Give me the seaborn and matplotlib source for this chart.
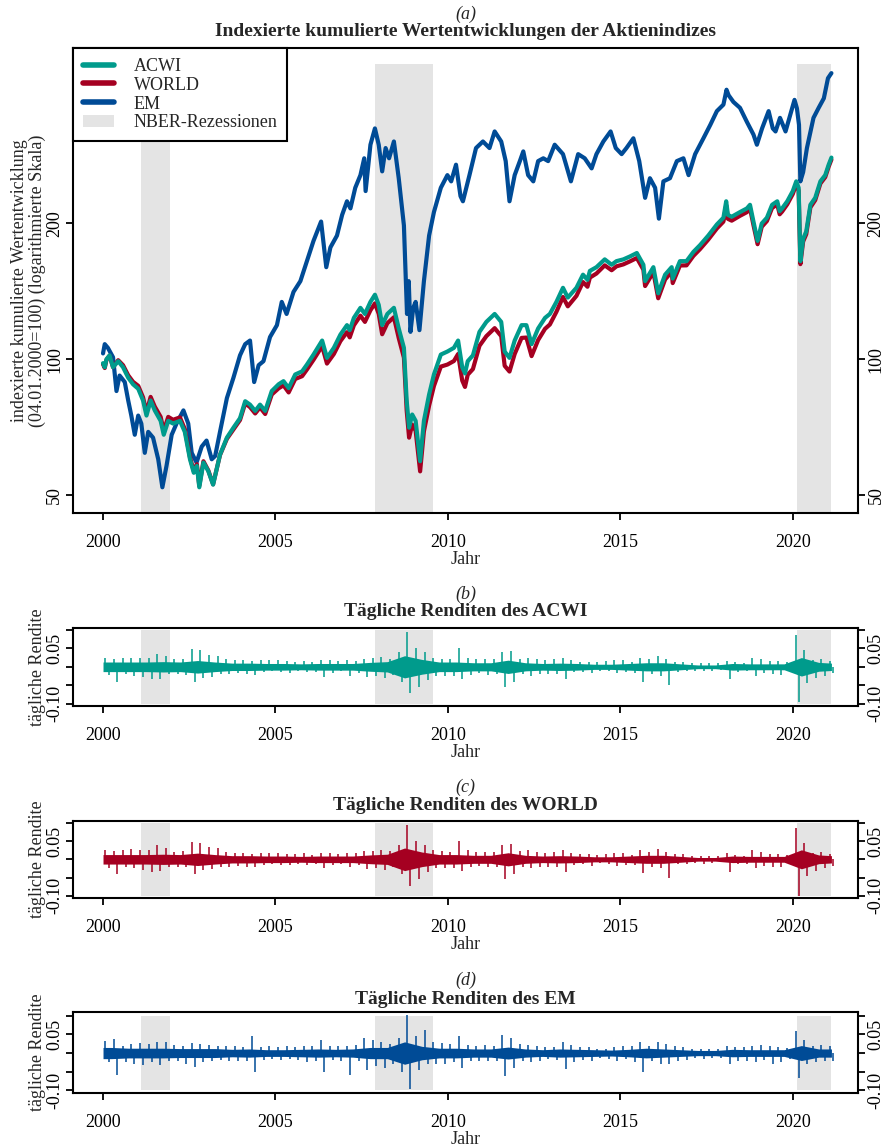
import numpy as np
import pandas as pd
import matplotlib
matplotlib.use("Agg")
import matplotlib.pyplot as plt
import seaborn as sns
from matplotlib.lines import Line2D
from matplotlib.patches import Patch
from matplotlib.ticker import FixedLocator, NullLocator

# ---------------- Daten ----------------
# Indexwerte (04.01.2000 = 100), Stützstellen in Dezimaljahren
jahr_acwi = [2000.01, 2000.06, 2000.11, 2000.20, 2000.30, 2000.45, 2000.59, 2000.74, 2000.88,
             2001.03, 2001.17, 2001.27, 2001.39, 2001.51, 2001.68, 2001.77, 2001.90,
             2002.04, 2002.24, 2002.38, 2002.53, 2002.64, 2002.73, 2002.80, 2002.92,
             2003.06, 2003.20, 2003.40, 2003.60, 2003.79, 2003.98,
             2004.13, 2004.27, 2004.42, 2004.56, 2004.71, 2004.90,
             2005.10, 2005.24, 2005.39, 2005.58, 2005.78, 2005.92,
             2006.11, 2006.36, 2006.50, 2006.70, 2006.89,
             2007.08, 2007.16, 2007.28, 2007.47, 2007.60, 2007.76, 2007.89,
             2008.00, 2008.10, 2008.25, 2008.44, 2008.58, 2008.73, 2008.81, 2008.88, 2008.97,
             2009.07, 2009.20, 2009.31, 2009.46, 2009.60, 2009.80, 2009.99,
             2010.18, 2010.30, 2010.42, 2010.50, 2010.58, 2010.73, 2010.92,
             2011.12, 2011.36, 2011.55, 2011.65, 2011.79, 2011.94,
             2012.14, 2012.28, 2012.43, 2012.62, 2012.82, 2012.96,
             2013.15, 2013.34, 2013.48, 2013.73, 2013.92,
             2014.05, 2014.12, 2014.31, 2014.55, 2014.75, 2014.89,
             2015.09, 2015.28, 2015.48, 2015.67, 2015.72, 2015.96,
             2016.10, 2016.30, 2016.49, 2016.52, 2016.73, 2016.92,
             2017.12, 2017.31, 2017.55, 2017.80, 2017.99,
             2018.07, 2018.12, 2018.23, 2018.47, 2018.67, 2018.76, 2018.86, 2018.98,
             2019.10, 2019.25, 2019.40, 2019.55, 2019.62, 2019.69, 2019.84,
             2020.00, 2020.10, 2020.17, 2020.22, 2020.30, 2020.39, 2020.51, 2020.65, 2020.80,
             2020.94, 2021.04, 2021.12]

acwi_wert = [98, 96, 100, 102, 96, 99, 96, 91, 88,
             86, 81, 75, 81, 77, 73, 68, 73,
             72, 73, 69, 60, 56, 58, 52, 59,
             56.5, 52.7, 61.4, 67, 70.5, 74,
             80.7, 79.3, 76.8, 79.3, 76.8, 85,
             88, 89.4, 86.3, 92.5, 94, 97.3,
             102.4, 110, 100.7, 106, 113.4,
             119, 116, 123.5, 130, 126, 134, 139,
             132, 119, 126, 130, 117, 106, 81, 70.5, 75.4,
             73, 59.4, 73, 83.5, 92.5, 102.4, 104,
             106, 110, 96, 93, 99, 102, 115,
             121, 126, 121, 104, 100.7, 110,
             119, 119, 108, 117, 123.5, 126,
             134, 144, 137, 144, 154,
             150, 157, 160, 166.5, 162, 165,
             166.5, 169, 172, 162, 149, 160,
             140, 154, 160, 151, 165, 165,
             173, 179, 188, 199, 206,
             224, 209, 207, 212, 216, 220, 202, 183,
             200, 206, 220, 224, 213, 216, 224,
             236, 248, 240, 165, 185, 192, 220, 228, 248,
             256, 270, 280]

world_wert = [97.5, 95.6, 99.7, 101.8, 96, 99.5, 97, 92.1, 89.1,
              87.3, 82.3, 76.3, 82.5, 78.5, 74.5, 69.4, 74.5,
              73.4, 74.3, 70, 60.6, 56.5, 58.5, 52.4, 59.4,
              56.7, 52.8, 61.3, 66.6, 69.9, 73.3,
              79.8, 78.3, 75.8, 78.2, 75.6, 83.5,
              86.2, 87.5, 84.4, 90.4, 91.7, 94.9,
              99.7, 106.9, 97.8, 102.7, 109.7,
              114.8, 111.8, 118.9, 124.9, 121, 128.4, 133,
              126.1, 113.6, 120.2, 123.9, 111.4, 100.8, 77, 67, 71.6,
              69.4, 56.4, 69.2, 78.9, 87.2, 96.3, 97.3,
              99.1, 102.7, 89.7, 86.8, 92.4, 95.1, 107.1,
              112.5, 117.2, 112.5, 96.7, 93.9, 102.7,
              111.5, 111.7, 101.6, 110.3, 116.8, 119.4,
              127.4, 137.4, 131, 138.2, 148.3,
              144.8, 151.7, 154.9, 161.5, 157.5, 160.7,
              162.3, 164.8, 167.7, 158, 145.3, 156,
              136.5, 150.3, 156.3, 147.5, 161.4, 161.5,
              169.5, 175.4, 184.2, 195, 201.9,
              219.5, 204.8, 202.9, 208, 211.9, 216, 198.4, 179.9,
              196.6, 202.5, 216.5, 220.4, 209.6, 212.5, 220.6,
              232.5, 244.3, 236.4, 162.5, 182.4, 189.3, 217.1, 225.3, 245.3,
              253.4, 267.3, 277.2]

jahr_em = [2000.01, 2000.06, 2000.15, 2000.30, 2000.40, 2000.49, 2000.64, 2000.74, 2000.83, 2000.93,
           2001.03, 2001.12, 2001.22, 2001.32, 2001.46, 2001.61, 2001.73, 2001.85,
           2002.00, 2002.14, 2002.34, 2002.48, 2002.58, 2002.72, 2002.87,
           2003.01, 2003.16, 2003.26, 2003.40, 2003.60, 2003.79, 2003.98,
           2004.13, 2004.27, 2004.39, 2004.52, 2004.66, 2004.85,
           2005.05, 2005.19, 2005.33, 2005.53, 2005.73, 2005.92,
           2006.11, 2006.33, 2006.48, 2006.60, 2006.79, 2006.94,
           2007.08, 2007.18, 2007.32, 2007.47, 2007.58, 2007.62, 2007.76, 2007.89,
           2008.00, 2008.10, 2008.20, 2008.30, 2008.44, 2008.58, 2008.73, 2008.82, 2008.87, 2008.92,
           2009.00, 2009.07, 2009.18, 2009.31, 2009.46, 2009.60, 2009.80, 2009.99,
           2010.10, 2010.24, 2010.37, 2010.44, 2010.63, 2010.82,
           2011.02, 2011.21, 2011.36, 2011.55, 2011.68, 2011.79, 2011.94,
           2012.09, 2012.19, 2012.33, 2012.48, 2012.62, 2012.77, 2012.91,
           2013.10, 2013.34, 2013.57, 2013.78, 2013.97,
           2014.17, 2014.31, 2014.51, 2014.72, 2014.87,
           2015.04, 2015.18, 2015.38, 2015.55, 2015.72, 2015.86,
           2016.01, 2016.12, 2016.25, 2016.44, 2016.64, 2016.83, 2016.98,
           2017.17, 2017.41, 2017.61, 2017.80, 2017.99,
           2018.08, 2018.14, 2018.28, 2018.47, 2018.67, 2018.86, 2018.96,
           2019.11, 2019.30, 2019.42, 2019.50, 2019.63, 2019.79, 2019.93,
           2020.05, 2020.12, 2020.18, 2020.22, 2020.30, 2020.41, 2020.60, 2020.75, 2020.90,
           2021.02, 2021.12]

em_wert = [103, 108, 106, 101, 85, 92, 89, 81, 75, 68,
           75, 72, 62, 69, 67, 60, 52, 58,
           68, 72, 77, 72, 62, 59, 64,
           66, 60, 61, 69, 82, 91, 102,
           108, 110, 89, 97, 99, 112,
           119, 134, 126, 141, 149, 165,
           183, 202, 160, 177, 188, 209,
           224, 216, 240, 256, 279, 236, 299, 325,
           299, 261, 294, 279, 304, 252, 198, 126, 149, 115,
           130, 134, 116, 149, 188, 212, 240, 256,
           248, 270, 230, 224, 256, 294,
           304, 294, 320, 304, 275, 224, 256,
           275, 289, 256, 248, 275, 279, 275,
           299, 285, 248, 285, 279,
           265, 285, 304, 320, 294,
           285, 294, 309, 275, 228, 252,
           240, 205, 248, 252, 275, 279, 256,
           285, 309, 331, 355, 367,
           396, 385, 372, 361, 336, 315, 299,
           325, 355, 325, 320, 343, 320, 349,
           376, 360, 331, 248, 260, 294, 343, 361, 379,
           420, 431]

# NBER-Rezessionen (Beginn, Ende) in Dezimaljahren
rezessionen = [(2001.12, 2001.95), (2007.90, 2009.57), (2020.12, 2021.12)]

# Tägliche Renditen: Quartalsextrema (2000Q1 ... 2021Q1)
acwi_max = [.024, .022, .025, .025, .025, .025, .036, .030, .020, .022, .047, .045,
            .032, .030, .020, .018, .018, .015, .018, .018, .018, .015, .014, .016,
            .013, .018, .018, .015, .018, .016, .022, .024, .026, .022, .040, .093,
            .050, .040, .025, .022, .020, .050, .025, .020, .020, .020, .040, .042,
            .022, .025, .020, .018, .020, .025, .018, .014, .014, .012, .015, .018,
            .018, .012, .025, .020, .028, .020, .014, .014, .010, .010, .010, .010,
            .016, .012, .010, .025, .020, .015, .015, .012, .086, .045, .018, .020,
            .015]
acwi_min = [-.022, -.040, -.020, -.025, -.028, -.034, -.032, -.020, -.020, -.022, -.040, -.030,
            -.027, -.020, -.020, -.018, -.020, -.022, -.015, -.012, -.015, -.016, -.012, -.015,
            -.014, -.027, -.016, -.012, -.024, -.016, -.027, -.025, -.030, -.022, -.040, -.072,
            -.054, -.035, -.025, -.025, -.025, -.032, -.022, -.018, -.022, -.020, -.054, -.040,
            -.020, -.025, -.020, -.020, -.020, -.034, -.015, -.014, -.018, -.010, -.012, -.018,
            -.015, -.016, -.040, -.020, -.025, -.048, -.014, -.012, -.010, -.012, -.010, -.008,
            -.033, -.014, -.012, -.025, -.018, -.020, -.022, -.012, -.096, -.045, -.030, -.025,
            -.018]
world_max = [.026, .024, .025, .027, .026, .025, .038, .030, .020, .022, .048, .045,
             .033, .030, .020, .018, .018, .015, .017, .018, .018, .015, .014, .016,
             .013, .017, .017, .015, .018, .016, .022, .024, .026, .022, .040, .095,
             .050, .038, .025, .022, .020, .050, .025, .020, .020, .020, .040, .042,
             .022, .025, .020, .018, .020, .025, .018, .014, .014, .012, .015, .018,
             .018, .012, .025, .020, .028, .020, .014, .014, .010, .010, .010, .010,
             .016, .012, .010, .025, .020, .015, .015, .012, .086, .046, .018, .020,
             .015]
world_min = [-.024, -.040, -.020, -.025, -.028, -.034, -.033, -.020, -.020, -.022, -.040, -.030,
             -.027, -.020, -.020, -.018, -.020, -.020, -.015, -.012, -.015, -.015, -.012, -.015,
             -.014, -.025, -.016, -.012, -.022, -.016, -.027, -.025, -.030, -.022, -.040, -.074,
             -.054, -.035, -.025, -.025, -.025, -.032, -.022, -.018, -.022, -.020, -.055, -.040,
             -.020, -.025, -.020, -.020, -.020, -.034, -.015, -.014, -.018, -.010, -.012, -.018,
             -.015, -.016, -.038, -.020, -.025, -.050, -.014, -.012, -.010, -.012, -.010, -.008,
             -.034, -.014, -.012, -.025, -.018, -.020, -.022, -.012, -.100, -.045, -.032, -.025,
             -.018]
em_max = [.031, .037, .020, .025, .028, .025, .030, .030, .022, .020, .028, .025,
          .022, .020, .020, .018, .015, .046, .016, .018, .016, .018, .016, .020,
          .020, .035, .018, .020, .020, .022, .040, .035, .030, .025, .040, .101,
          .045, .062, .030, .028, .025, .045, .022, .020, .022, .020, .048, .040,
          .025, .022, .020, .015, .016, .030, .022, .015, .015, .012, .012, .015,
          .018, .020, .030, .020, .030, .025, .018, .016, .012, .012, .012, .012,
          .020, .015, .016, .020, .022, .018, .016, .014, .059, .035, .020, .022,
          .020]
em_min = [-.023, -.058, -.025, -.028, -.032, -.025, -.032, -.022, -.020, -.030, -.037, -.025,
          -.022, -.018, -.020, -.020, -.020, -.050, -.018, -.015, -.018, -.015, -.018, -.025,
          -.020, -.050, -.018, -.020, -.058, -.020, -.045, -.035, -.040, -.030, -.050, -.095,
          -.045, -.030, -.030, -.030, -.025, -.041, -.020, -.020, -.020, -.020, -.062, -.040,
          -.022, -.025, -.020, -.015, -.018, -.042, -.025, -.018, -.020, -.012, -.015, -.020,
          -.015, -.025, -.050, -.020, -.030, -.030, -.020, -.018, -.012, -.015, -.012, -.012,
          -.030, -.020, -.020, -.025, -.018, -.028, -.025, -.016, -.067, -.030, -.025, -.020,
          -.020]

# typische Schwankungsbreite (halbe Bandbreite) je Halbjahr, 2000H1 ... 2021H1
acwi_band = [.013, .013, .013, .014, .013, .017, .013, .010, .010, .009, .009, .008,
             .009, .009, .009, .012, .014, .030, .020, .013, .013, .011, .011, .018,
             .011, .009, .010, .009, .007, .007, .009, .011, .011, .008, .005, .005,
             .009, .008, .008, .008, .025, .012, .010]
world_band = [.013, .013, .013, .014, .013, .017, .013, .010, .010, .009, .009, .008,
              .009, .009, .009, .012, .014, .031, .020, .013, .013, .011, .011, .018,
              .011, .009, .010, .009, .007, .007, .009, .011, .011, .008, .005, .005,
              .009, .008, .008, .008, .026, .012, .010]
em_band = [.015, .013, .013, .013, .012, .012, .012, .010, .011, .009, .009, .010,
           .011, .010, .011, .015, .015, .030, .018, .013, .013, .011, .011, .016,
           .011, .009, .011, .010, .009, .008, .010, .013, .011, .009, .007, .007,
           .010, .009, .009, .009, .020, .011, .011]

beginn_daten, ende_daten = 2000.01, 2021.12

# ---------------- Darstellung ----------------
sns.set_theme(style="white")
plt.rcParams["font.family"] = ["Liberation Serif", "DejaVu Serif"]
plt.rcParams["axes.linewidth"] = 1.5

farbe = {"ACWI": "#009B8C", "WORLD": "#A50021", "EM": "#004B96"}
grau = "#E4E4E4"

W, H = 889, 1148
fig = plt.figure(figsize=(W / 100, H / 100), dpi=100)


def box(links, oben, rechts, unten):
    return [links / W, 1 - unten / H, (rechts - links) / W, (unten - oben) / H]


ax_a = fig.add_axes(box(73, 48, 858, 513))
ax_b = fig.add_axes(box(73, 628, 858, 706))
ax_c = fig.add_axes(box(73, 821, 858, 898))
ax_d = fig.add_axes(box(73, 1012, 858, 1093))

xlim = (1999.14, 2021.89)


def achsen_stil(ax):
    ax.set_xlim(*xlim)
    ax.xaxis.set_major_locator(FixedLocator([2000, 2005, 2010, 2015, 2020]))
    ax.xaxis.set_minor_locator(NullLocator())
    ax.tick_params(axis="both", which="major", direction="out", length=5, width=1.3,
                   labelsize=13, color="black", labelcolor="black")
    ax.tick_params(axis="x", pad=10, bottom=True)
    ax.tick_params(axis="y", left=True, right=True, labelleft=True, labelright=True,
                   labelrotation=90, pad=2)
    for lab in ax.get_yticklabels():
        lab.set_va("center")
    for s in ax.spines.values():
        s.set_color("black")
        s.set_linewidth(1.5)
    ax.set_xlabel("Jahr", fontsize=13, labelpad=0)
    ax.grid(False)
    ax.set_facecolor("white")


# ----- (a) kumulierte Wertentwicklung -----
df_idx = pd.concat([
    pd.DataFrame({"Jahr": jahr_em, "Wert": em_wert, "Index": "EM"}),
    pd.DataFrame({"Jahr": jahr_acwi, "Wert": world_wert, "Index": "WORLD"}),
    pd.DataFrame({"Jahr": jahr_acwi, "Wert": acwi_wert, "Index": "ACWI"}),
])

ylim_a = (45.6, 490)
for a, b in rezessionen:
    ax_a.axvspan(a, b, ymin=0, ymax=0.966, color=grau, lw=0, zorder=0)
for name in ["EM", "WORLD", "ACWI"]:
    sns.lineplot(data=df_idx[df_idx["Index"] == name], x="Jahr", y="Wert", ax=ax_a,
                 color=farbe[name], lw=3.0, estimator=None, sort=False, legend=False, zorder=2)
ax_a.set_yscale("log")
ax_a.set_ylim(*ylim_a)
ax_a.yaxis.set_major_locator(FixedLocator([50, 100, 200]))
ax_a.yaxis.set_minor_locator(NullLocator())
ax_a.set_yticklabels(["50", "100", "200"])
achsen_stil(ax_a)
ax_a.set_ylabel("indexierte kumulierte Wertentwicklung\n(04.01.2000=100) (logarithmierte Skala)",
                fontsize=13, labelpad=0, linespacing=1.1)

handles = [Line2D([], [], color=farbe["ACWI"], lw=4),
           Line2D([], [], color=farbe["WORLD"], lw=4),
           Line2D([], [], color=farbe["EM"], lw=4),
           Patch(facecolor=grau, edgecolor="none")]
leg = ax_a.legend(handles, ["ACWI", "WORLD", "EM", "NBER-Rezessionen"], loc="upper left",
                  bbox_to_anchor=(0, 1), borderaxespad=0, fontsize=13, frameon=True,
                  fancybox=False, framealpha=1, edgecolor="black", handlelength=1.7,
                  handletextpad=1.1, labelspacing=0.1, borderpad=0.55)
leg.get_frame().set_linewidth(1.5)

# ----- (b)-(d) tägliche Renditen -----
# Quartalsmaximum und -minimum als Ausschläge, dazu das typische Band je Halbjahr
x_hoch, x_tief, halb_x = [], [], [beginn_daten]
for q in range(len(acwi_max)):
    t0 = 2000 + q * 0.25
    x_hoch.append(t0 + 0.08)
    x_tief.append(t0 + 0.17)
for h in range(len(acwi_band)):
    halb_x.append(min(2000 + h * 0.5 + 0.25, ende_daten))
halb_x.append(ende_daten)

panels = [(ax_b, "ACWI", acwi_max, acwi_min, acwi_band, (-0.106, 0.105)),
          (ax_c, "WORLD", world_max, world_min, world_band, (-0.106, 0.105)),
          (ax_d, "EM", em_max, em_min, em_band, (-0.107, 0.110))]

for ax, name, hi, lo, band, ylim in panels:
    span_lo = (-0.10 - ylim[0]) / (ylim[1] - ylim[0])
    span_hi = (0.10 - ylim[0]) / (ylim[1] - ylim[0])
    for a, b in rezessionen:
        ax.axvspan(a, b, ymin=span_lo, ymax=span_hi, color=grau, lw=0, zorder=0)
    bw = np.array([band[0]] + band + [band[-1]])
    ax.fill_between(halb_x, -bw, bw, color=farbe[name], lw=0, zorder=2)
    ax.vlines(x_hoch, 0, hi, color=farbe[name], lw=1.1, zorder=3)
    ax.vlines(x_tief, lo, 0, color=farbe[name], lw=1.1, zorder=3)
    ax.set_ylim(*ylim)
    ax.yaxis.set_major_locator(FixedLocator([-0.10, -0.05, 0.0, 0.05, 0.10]))
    ax.yaxis.set_minor_locator(NullLocator())
    ax.set_yticklabels(["-0.10", "", "", "0.05", ""])
    achsen_stil(ax)
    ax.set_ylabel("tägliche Rendite", fontsize=13, labelpad=0)

# ----- Titel -----
titel = [("(a)", "Indexierte kumulierte Wertentwicklungen der Aktienindizes", 14, 32),
         ("(b)", "Tägliche Renditen des ACWI", 594, 611),
         ("(c)", "Tägliche Renditen des WORLD", 787, 806),
         ("(d)", "Tägliche Renditen des EM", 980, 999)]
xm = (73 + 858) / 2 / W
for buchst, text, y1, y2 in titel:
    fig.text(xm, 1 - y1 / H, buchst, ha="center", va="center", fontsize=13, style="italic")
    fig.text(xm, 1 - y2 / H, text, ha="center", va="center", fontsize=14, weight="bold")

fig.savefig("out.png", dpi=100, facecolor="white")
